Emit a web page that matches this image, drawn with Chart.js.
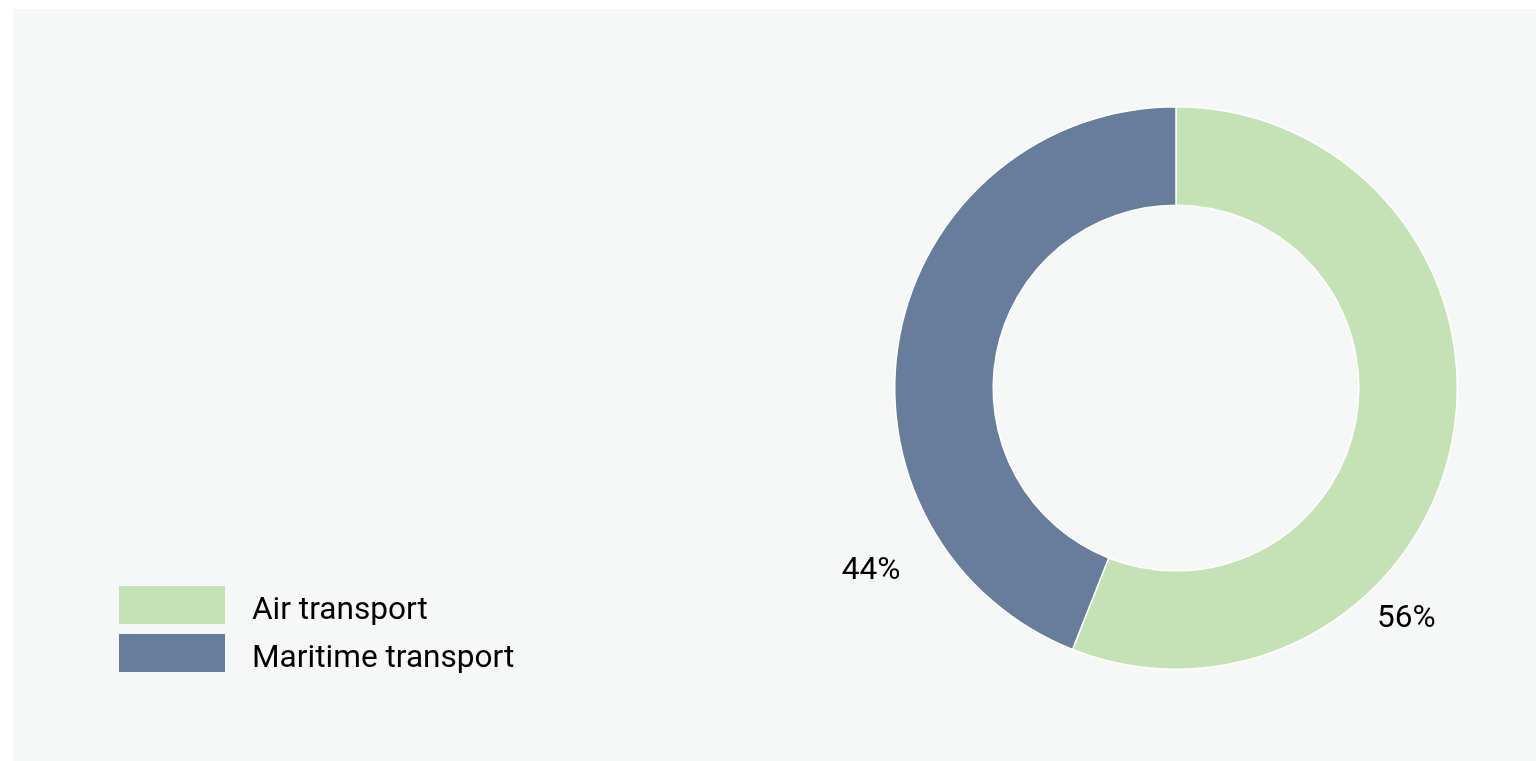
<!DOCTYPE html>
<html>
<head>
<meta charset="utf-8">
<script src="https://cdn.jsdelivr.net/npm/chart.js@4/dist/chart.umd.min.js"></script>
<style>
  html, body { margin: 0; padding: 0; background: #ffffff; }
  body { width: 1536px; height: 761px; position: relative; overflow: hidden; font-family: Roboto, "Noto Sans", sans-serif; }
  #panel { position: absolute; left: 13px; top: 9px; width: 1523px; height: 752px; background: #f6f8f8; }
  #chartBox { position: absolute; left: 0; top: 0; width: 1523px; height: 752px; }
  #legend { position: absolute; left: 106px; top: 577px; }
  .item { display: flex; align-items: center; height: 38px; margin-bottom: 10px; font-size: 31.6px; color: #000; }
  .item span { position: relative; top: 3px; }
  .swatch { width: 106px; height: 38px; margin-right: 27px; }
</style>
</head>
<body>
<div id="panel">
  <div id="chartBox"><canvas id="shareChart"></canvas></div>
  <div id="legend"></div>
</div>
<script>
// Share of transport mode
const categories = ['Air transport', 'Maritime transport'];
const shares = [56, 44];
const colors = ['#c5e2b6', '#687c9c'];

// legend (html)
const legendEl = document.getElementById('legend');
categories.forEach((c, i) => {
    const row = document.createElement('div');
    row.className = 'item';
    row.innerHTML = '<div class="swatch" style="background:' + colors[i] + '"></div><span>' + c + '</span>';
    legendEl.appendChild(row);
});

// percent labels outside the ring, placed relative to each arc
const labelSpots = [{ frac: 0.67, dist: 1.16 }, { frac: 0.236, dist: 1.265 }];
const outerLabels = {
    id: 'outerLabels',
    afterDatasetsDraw(chart) {
        const ctx = chart.ctx;
        const meta = chart.getDatasetMeta(0);
        ctx.save();
        ctx.font = '31.6px Roboto, "Noto Sans", sans-serif';
        ctx.fillStyle = '#000';
        ctx.textAlign = 'center';
        ctx.textBaseline = 'middle';
        meta.data.forEach((arc, i) => {
            const p = arc.getProps(['x', 'y', 'startAngle', 'endAngle', 'outerRadius']);
            const a = p.startAngle + (p.endAngle - p.startAngle) * labelSpots[i].frac;
            const r = p.outerRadius * labelSpots[i].dist;
            ctx.fillText(shares[i] + '%', p.x + Math.cos(a) * r, p.y + Math.sin(a) * r);
        });
        ctx.restore();
    }
};

const ctx = document.getElementById('shareChart').getContext('2d');
new Chart(ctx, {
    type: 'doughnut',
    data: {
        labels: categories,
        datasets: [{
            data: shares,
            backgroundColor: colors,
            borderColor: '#ffffff',
            borderWidth: 1.5,
            hoverOffset: 0
        }]
    },
    options: {
        responsive: true,
        maintainAspectRatio: false,
        animation: false,
        cutout: '65%',
        layout: { padding: { left: 881, right: 78, top: 97, bottom: 91 } },
        plugins: {
            legend: { display: false },
            tooltip: { enabled: false }
        }
    },
    plugins: [outerLabels]
});
</script>
</body>
</html>
